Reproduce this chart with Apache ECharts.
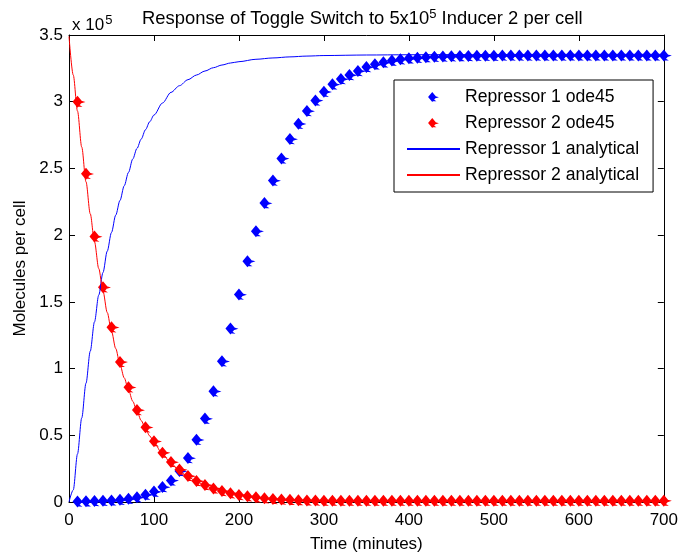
<!DOCTYPE html>
<html>
<head>
<meta charset="utf-8">
<script src="https://cdn.jsdelivr.net/npm/echarts@6/dist/echarts.min.js"></script>
<style>
  html, body { margin: 0; padding: 0; background: #fff; }
  #chart { width: 681px; height: 558px; }
</style>
</head>
<body>
<div id="chart"></div>
<script>
// values are in units of 10^5 molecules per cell
var odeTime = [10, 20, 30, 40, 50, 60, 70, 80, 90, 100,
  110, 120, 130, 140, 150, 160, 170, 180, 190, 200,
  210, 220, 230, 240, 250, 260, 270, 280, 290, 300,
  310, 320, 330, 340, 350, 360, 370, 380, 390, 400,
  410, 420, 430, 440, 450, 460, 470, 480, 490, 500,
  510, 520, 530, 540, 550, 560, 570, 580, 590, 600,
  610, 620, 630, 640, 650, 660, 670, 680, 690, 700];
var rep1Ode = [0.004, 0.005, 0.007, 0.009, 0.012, 0.017, 0.024, 0.036, 0.055, 0.078,
  0.112, 0.162, 0.232, 0.330, 0.466, 0.625, 0.830, 1.055, 1.300, 1.555,
  1.805, 2.030, 2.240, 2.410, 2.575, 2.720, 2.835, 2.930, 3.010, 3.075,
  3.130, 3.170, 3.200, 3.230, 3.260, 3.280, 3.295, 3.308, 3.318, 3.325,
  3.330, 3.334, 3.337, 3.339, 3.341, 3.342, 3.343, 3.344, 3.345, 3.345,
  3.346, 3.346, 3.346, 3.346, 3.346, 3.346, 3.346, 3.346, 3.347, 3.347,
  3.347, 3.347, 3.347, 3.347, 3.347, 3.347, 3.347, 3.347, 3.347, 3.347];
var rep2Ode = [3.00, 2.46, 1.99, 1.61, 1.31, 1.05, 0.86, 0.69, 0.56, 0.455,
  0.37, 0.30, 0.243, 0.195, 0.157, 0.127, 0.102, 0.082, 0.066, 0.053,
  0.043, 0.035, 0.028, 0.023, 0.019, 0.016, 0.014, 0.012, 0.011, 0.010,
  0.010, 0.010, 0.010, 0.010, 0.010, 0.010, 0.010, 0.010, 0.010, 0.010,
  0.010, 0.010, 0.010, 0.010, 0.010, 0.010, 0.010, 0.010, 0.010, 0.010,
  0.010, 0.010, 0.010, 0.010, 0.010, 0.010, 0.010, 0.010, 0.010, 0.010,
  0.010, 0.010, 0.010, 0.010, 0.010, 0.010, 0.010, 0.010, 0.010, 0.010];

var anaTime = [0, 5, 10, 15, 20, 25, 30, 35, 40, 45, 50, 55, 60, 65, 70, 75, 80, 85, 90, 95, 100,
  110, 120, 130, 140, 150, 160, 170, 180, 190, 200,
  220, 240, 260, 280, 300, 350, 400, 450, 500, 600, 700];
var rep1Ana = [0, 0.09, 0.36, 0.63, 0.89, 1.13, 1.35, 1.55, 1.72, 1.88, 2.02, 2.15, 2.26, 2.37, 2.47, 2.57, 2.65, 2.72, 2.79, 2.85, 2.90,
  2.99, 3.07, 3.12, 3.165, 3.20, 3.23, 3.255, 3.275, 3.29, 3.30,
  3.318, 3.328, 3.336, 3.342, 3.346, 3.35, 3.352, 3.353, 3.354, 3.355, 3.355];
var rep2Ana = [3.49, 3.20, 2.93, 2.66, 2.40, 2.16, 1.95, 1.75, 1.58, 1.42, 1.28, 1.15, 1.03, 0.93, 0.84, 0.755, 0.68, 0.61, 0.55, 0.495, 0.445,
  0.36, 0.29, 0.235, 0.19, 0.153, 0.123, 0.099, 0.08, 0.064, 0.052,
  0.034, 0.022, 0.014, 0.009, 0.006, 0.003, 0.002, 0.001, 0.001, 0, 0];

var seriesNames = ['Repressor 1 ode45', 'Repressor 2 ode45', 'Repressor 1 analytical', 'Repressor 2 analytical'];

function pairs(xs, ys) {
  return xs.map(function (x, i) { return [x, ys[i]]; });
}

// diamond with a small ragged tail, like the low-res MATLAB marker
var markerPath = 'path://M5,0L10,6L5,12L0,6Z M8,4.8L13,6.2L8,7.8Z M6,8.5L10,11.2L5,10.8Z';

var font = "'Liberation Sans', Arial, Helvetica, sans-serif";
var chart = echarts.init(document.getElementById('chart'), null, { renderer: 'canvas' });

var frameAxis = {
  axisLine: { show: true, onZero: false, lineStyle: { color: '#000', width: 1 } },
  axisTick: { show: true, inside: true, length: 6, lineStyle: { color: '#000' } },
  splitLine: { show: false }
};

var option = {
  animation: false,
  backgroundColor: '#fff',
  textStyle: { fontFamily: font },
  title: [
    {
      text: 'Response of Toggle Switch to 5x10{sup|5} Inducer 2 per cell',
      left: 137,
      top: 3,
      textStyle: {
        fontFamily: font, fontSize: 18.4, fontWeight: 'normal', color: '#000',
        rich: { sup: { fontFamily: font, fontSize: 13, padding: [0, 0, 9, 0], color: '#000' } }
      }
    },
    {
      text: 'x 10{sup|5}',
      left: 67,
      top: 9,
      textStyle: {
        fontFamily: font, fontSize: 17, fontWeight: 'normal', color: '#000',
        rich: { sup: { fontFamily: font, fontSize: 13, padding: [0, 0, 9, 1], color: '#000' } }
      }
    }
  ],
  grid: { left: 69, top: 35, width: 598, height: 469, containLabel: false },
  legend: {
    orient: 'vertical',
    left: 394,
    top: 80,
    itemWidth: 53,
    itemHeight: 10,
    itemGap: 8,
    padding: [8, 14, 8, 12],
    borderColor: '#000',
    borderWidth: 1,
    backgroundColor: '#fff',
    symbolKeepAspect: true,
    textStyle: { fontFamily: font, fontSize: 17.6, color: '#000' },
    data: [
      { name: seriesNames[0], icon: markerPath },
      { name: seriesNames[1], icon: markerPath },
      { name: seriesNames[2], itemStyle: { opacity: 0 } },
      { name: seriesNames[3], itemStyle: { opacity: 0 } }
    ]
  },
  xAxis: [
    Object.assign({
      type: 'value', min: 0, max: 700, interval: 100, position: 'bottom',
      name: 'Time (minutes)', nameLocation: 'middle', nameGap: 34,
      nameTextStyle: { fontFamily: font, fontSize: 17, color: '#000' },
      axisLabel: { fontFamily: font, fontSize: 17, color: '#000', margin: 10 }
    }, frameAxis),
    Object.assign({
      type: 'value', min: 0, max: 700, interval: 100, position: 'top',
      axisLabel: { show: false }
    }, frameAxis)
  ],
  yAxis: [
    Object.assign({
      type: 'value', min: 0, max: 3.5, interval: 0.5, position: 'left',
      name: 'Molecules per cell', nameLocation: 'middle', nameGap: 38,
      nameTextStyle: { fontFamily: font, fontSize: 17, color: '#000' },
      axisLabel: { fontFamily: font, fontSize: 17, color: '#000', margin: 6 }
    }, frameAxis),
    Object.assign({
      type: 'value', min: 0, max: 3.5, interval: 0.5, position: 'right',
      axisLabel: { show: false }
    }, frameAxis)
  ],
  series: [
    {
      name: seriesNames[0], type: 'scatter', symbol: markerPath, symbolSize: [13, 12], symbolOffset: [1.5, 0],
      itemStyle: { color: '#0000ff', opacity: 1 }, data: pairs(odeTime, rep1Ode)
    },
    {
      name: seriesNames[1], type: 'scatter', symbol: markerPath, symbolSize: [13, 12], symbolOffset: [1.5, 0],
      itemStyle: { color: '#ff0000', opacity: 1 }, data: pairs(odeTime, rep2Ode)
    },
    {
      name: seriesNames[2], type: 'line', symbol: 'none', smooth: 0.3, smoothMonotone: 'x',
      lineStyle: { color: '#0000ff', width: 1 }, itemStyle: { color: '#0000ff' },
      data: pairs(anaTime, rep1Ana)
    },
    {
      name: seriesNames[3], type: 'line', symbol: 'none', smooth: 0.3, smoothMonotone: 'x',
      lineStyle: { color: '#ff0000', width: 1 }, itemStyle: { color: '#ff0000' },
      data: pairs(anaTime, rep2Ana)
    }
  ]
};

chart.setOption(option);
</script>
</body>
</html>
